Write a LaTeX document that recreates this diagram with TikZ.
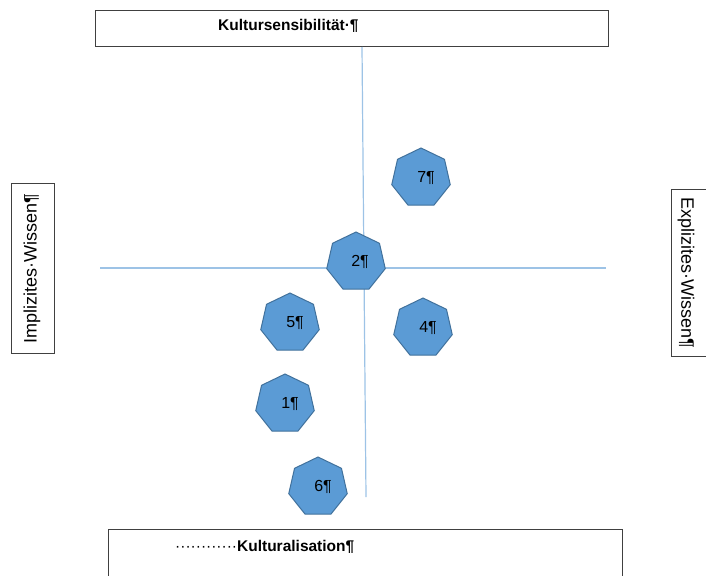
\documentclass[tikz,border=0pt]{standalone}
\usepackage{fontspec}
\setmainfont{Liberation Sans}
\usetikzlibrary{shapes.geometric,positioning}
\definecolor{axisblue}{RGB}{157,195,230}
\definecolor{heptfill}{RGB}{91,155,213}
\definecolor{heptdraw}{RGB}{65,113,156}

\begin{document}
\begin{tikzpicture}[x=1pt,y=-1pt,
  hept/.style={regular polygon,regular polygon sides=7,draw=heptdraw,fill=heptfill,
    line width=1pt,minimum size=60pt,inner sep=0pt,font=\fontsize{16}{18}\selectfont},
  frame/.style={draw=black!75,line width=1pt,fill=white},
  axis/.style={draw=axisblue,line width=1.2pt}]
\clip (0,0) rectangle (706,575);
% frames
\draw[frame] (95,11) rectangle (608,47);
\draw[frame] (108,529) rectangle (622,590);
\draw[frame] (11,183) rectangle (54,353);
\draw[frame] (671,189) rectangle (720,356);
\node[anchor=west,inner sep=0pt,font=\bfseries\fontsize{15.5}{17}\selectfont] (sens) at (218,26) {Kultursensibilität·¶};
\node[anchor=west,inner sep=0pt,font=\fontsize{15.5}{17}\selectfont] (kult) at (175,547) {············\textbf{Kulturalisation¶}};
\node[rotate=90,font=\fontsize{18}{20}\selectfont] (impl) at (32,269) {Implizites·Wissen¶};
\node[rotate=-90,font=\fontsize{18}{20}\selectfont] (expl) at (686,273) {Explizites·Wissen¶};
% axes
\coordinate (vtop) at (362,47);
\coordinate (vbot) at (366,497);
\coordinate (hl) at (100,268);
\coordinate (hr) at (606,268);
\draw[axis] (vtop) -- (vbot);
\draw[axis] (hl) -- (hr);
% heptagons
\node[hept] (n7) at (421,178) {\hspace*{10pt}7¶};
\node[hept] (n2) at (356,262) {\hspace*{8pt}2¶};
\node[hept] (n5) at (290,323) {\hspace*{10pt}5¶};
\node[hept] (n4) at (423,328) {\hspace*{10pt}4¶};
\node[hept] (n1) at (285,404) {\hspace*{10pt}1¶};
\node[hept] (n6) at (318,487) {\hspace*{10pt}6¶};
\end{tikzpicture}
\end{document}
